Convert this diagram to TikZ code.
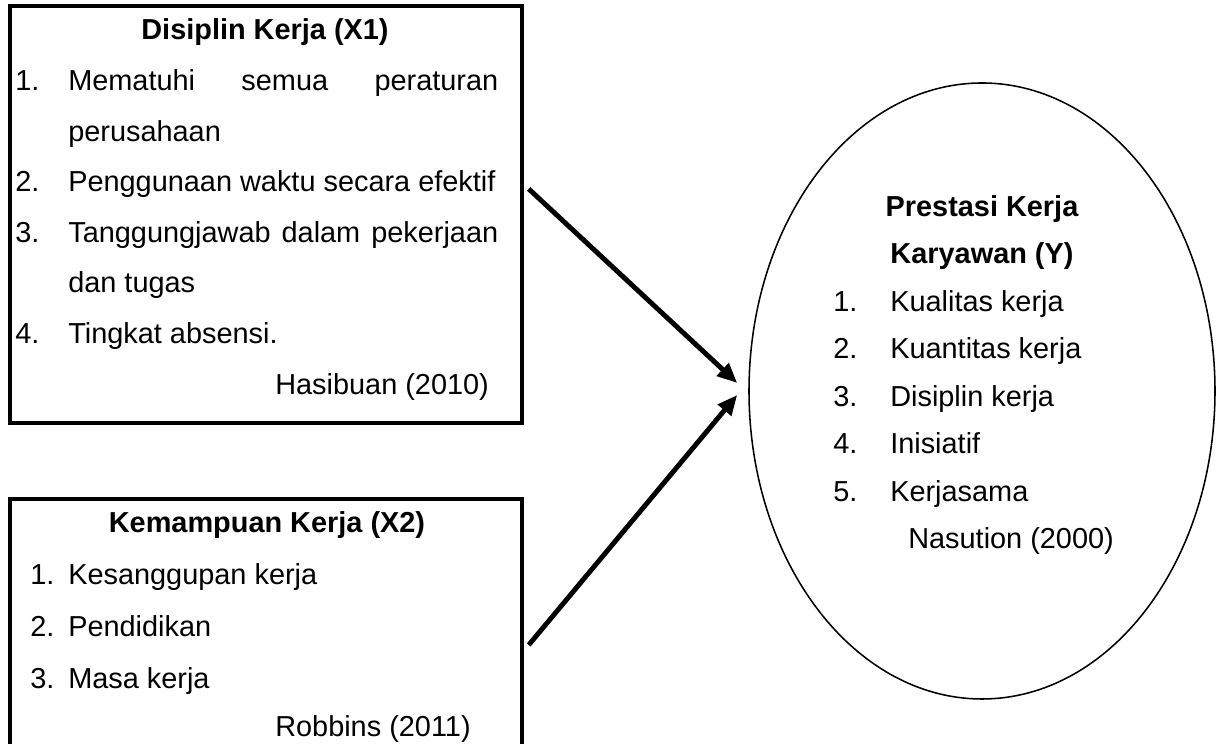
\documentclass[tikz,border=0pt]{standalone}
\usepackage{fontspec}
\setmainfont{Liberation Sans}
\usetikzlibrary{arrows.meta,shapes.geometric,calc}

\tikzset{
  kotak/.style={draw,line width=2.4pt,rectangle,minimum width=12.8cm,inner sep=0pt},
  teks/.style={anchor=base west,inner sep=0pt,font=\fontsize{20.55}{24}\selectfont},
  judul/.style={anchor=base,inner sep=0pt,font=\fontsize{20.55}{24}\selectfont\bfseries},
  panah/.style={-{Triangle[length=0.5cm,width=0.42cm]},line width=3.5pt}
}

\begin{document}
\begin{tikzpicture}
            \useasboundingbox (0,0) rectangle (30.475,18.6);
            \clip (0,0) rectangle (30.475,18.6);

            \node[kotak,minimum height=10.425cm] (X1) at (6.65,13.2375) { };
            \node[kotak,minimum height=7.125cm] (X2) at (6.65,2.5625) { };
            \node[draw,ellipse,line width=1.1pt,minimum width=11.65cm,minimum height=15.4cm,inner sep=0pt] (Y) at (24.55,8.825) { };

            % Disiplin Kerja
            \node[judul] (X1judul) at (6.625,17.6) {Disiplin Kerja (X1)};
            \node[teks] (X1n1) at (0.375,16.335) {1.};
            \node[teks] (X1a) at (1.7,16.335) {\makebox[10.75cm][s]{Mematuhi semua peraturan}};
            \node[teks] (X1b) at (1.7,15.07) {perusahaan};
            \node[teks] (X1n2) at (0.375,13.805) {2.};
            \node[teks] (X1c) at (1.7,13.805) {Penggunaan waktu secara efektif};
            \node[teks] (X1n3) at (0.375,12.54) {3.};
            \node[teks] (X1d) at (1.7,12.54) {\makebox[10.75cm][s]{Tanggungjawab dalam pekerjaan}};
            \node[teks] (X1e) at (1.7,11.275) {dan tugas};
            \node[teks] (X1n4) at (0.375,10.01) {4.};
            \node[teks] (X1f) at (1.7,10.01) {Tingkat absensi.};
            \node[teks] (X1sumber) at (6.875,8.745) {Hasibuan (2010)};

            % Kemampuan Kerja
            \node[judul] (X2judul) at (6.675,5.275) {Kemampuan Kerja (X2)};
            \node[teks] (X2n1) at (0.75,3.975) {1.};
            \node[teks] (X2a) at (1.7,3.975) {Kesanggupan kerja};
            \node[teks] (X2n2) at (0.75,2.675) {2.};
            \node[teks] (X2b) at (1.7,2.675) {Pendidikan};
            \node[teks] (X2n3) at (0.75,1.375) {3.};
            \node[teks] (X2c) at (1.7,1.375) {Masa kerja};
            \node[teks] (X2sumber) at (6.875,0.175) {Robbins (2011)};

            % Prestasi Kerja
            \node[judul] (Yjudul1) at (24.55,13.1875) {Prestasi Kerja};
            \node[judul] (Yjudul2) at (24.55,12.0) {Karyawan (Y)};
            \node[teks] (Yn1) at (20.825,10.8125) {1.};
            \node[teks] (Ya) at (22.25,10.8125) {Kualitas kerja};
            \node[teks] (Yn2) at (20.825,9.625) {2.};
            \node[teks] (Yb) at (22.25,9.625) {Kuantitas kerja};
            \node[teks] (Yn3) at (20.825,8.4375) {3.};
            \node[teks] (Yc) at (22.25,8.4375) {Disiplin kerja};
            \node[teks] (Yn4) at (20.825,7.25) {4.};
            \node[teks] (Yd) at (22.25,7.25) {Inisiatif};
            \node[teks] (Yn5) at (20.825,6.0625) {5.};
            \node[teks] (Ye) at (22.25,6.0625) {Kerjasama};
            \node[teks] (Ysumber) at (22.7,4.875) {Nasution (2000)};

            \coordinate (A) at ($(X1.east)+(0.125,0.64)$);
            \coordinate (B) at ($(X2.east)+(0.125,-0.0875)$);
            \coordinate (C) at ($(Y.west)+(-0.275,0.2)$);
            \coordinate (D) at ($(Y.west)+(-0.275,-0.1)$);

            \draw[panah] (A) -- (C);
            \draw[panah] (B) -- (D);

        \end{tikzpicture}
\end{document}
